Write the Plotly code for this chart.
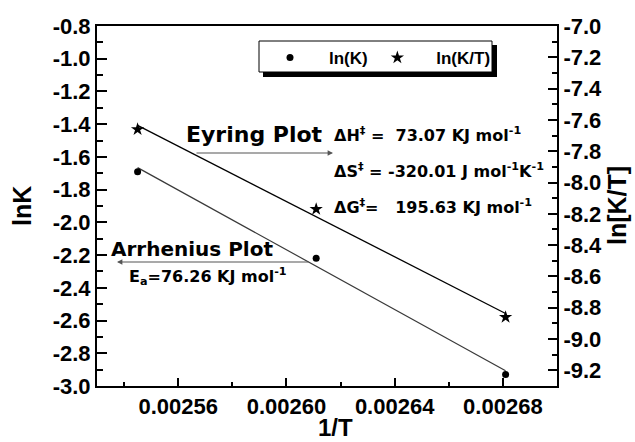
import numpy as np
import plotly.graph_objects as go

# ---------------- data ----------------
inv_T = [0.002545, 0.002611, 0.002681]
ln_K = [-1.69, -2.22, -2.93]
ln_K_over_T = [-7.66, -8.17, -8.86]

x_ticks = [0.00256, 0.00260, 0.00264, 0.00268]
x_tick_labels = ["0.00256", "0.00260", "0.00264", "0.00268"]
y_ticks = [-3.0, -2.8, -2.6, -2.4, -2.2, -2.0, -1.8, -1.6, -1.4, -1.2, -1.0, -0.8]
y_tick_labels = ["-3.0", "-2.8", "-2.6", "-2.4", "-2.2", "-2.0", "-1.8", "-1.6", "-1.4", "-1.2", "-1.0", "-0.8"]
y2_ticks = [-9.2, -9.0, -8.8, -8.6, -8.4, -8.2, -8.0, -7.8, -7.6, -7.4, -7.2, -7.0]
y2_tick_labels = ["-9.2", "-9.0", "-8.8", "-8.6", "-8.4", "-8.2", "-8.0", "-7.8", "-7.6", "-7.4", "-7.2", "-7.0"]

series_names = ["ln(K)", "ln(K/T)"]

# ---------------- layout geometry ----------------
W, H = 635, 442
L, R, T, B = 97, 78, 26, 56
PW, PH = W - L - R, H - T - B


def px(x):
    return (x - L) / PW


def py(y):
    return (H - B - y) / PH


def bold(labels):
    return ["<b>%s</b>" % s for s in labels]


ARIAL = "Liberation Sans, Arial, sans-serif"
WIDE = "DejaVu Sans, Verdana, sans-serif"

# linear fits of the data
a1, b1 = np.polyfit(inv_T, ln_K, 1)
a2, b2 = np.polyfit(inv_T, ln_K_over_T, 1)
fit_x = np.array([inv_T[0], inv_T[-1]])

fig = go.Figure()

fig.add_trace(go.Scatter(x=fit_x, y=a1 * fit_x + b1, mode="lines",
                         line=dict(color="#3a3a3a", width=1.2), showlegend=False,
                         hoverinfo="skip"))
fig.add_trace(go.Scatter(x=fit_x, y=a2 * fit_x + b2, mode="lines", yaxis="y2",
                         line=dict(color="black", width=1.3), showlegend=False,
                         hoverinfo="skip"))

NB = "\u00a0"
fig.add_trace(go.Scatter(x=inv_T, y=ln_K, mode="markers",
                         name=NB * 4 + "<b>" + series_names[0] + "</b>" + NB,
                         marker=dict(symbol="circle", size=7, color="black",
                                     line=dict(width=0))))
fig.add_trace(go.Scatter(x=inv_T, y=ln_K_over_T, mode="markers", yaxis="y2",
                         name=NB * 4 + "<b>" + series_names[1] + "</b>",
                         marker=dict(symbol="star", size=10, color="black",
                                     line=dict(width=0))))

tickfont = dict(family=ARIAL, size=22, color="black")

fig.update_layout(
    width=W, height=H,
    margin=dict(l=L, r=R, t=T, b=B, pad=0),
    paper_bgcolor="white", plot_bgcolor="white",
    font=dict(family=ARIAL, color="black"),
    xaxis=dict(range=[0.00253, 0.0027], tickmode="array", tickvals=x_ticks,
               ticktext=bold(x_tick_labels), ticks="inside", ticklen=8, tickwidth=1.5,
               tickcolor="black", showline=True, linewidth=2, linecolor="black",
               mirror=True, showgrid=False, zeroline=False, tickfont=tickfont,
               minor=dict(ticks="inside", ticklen=4, tickwidth=1.5, tickcolor="black",
                          tick0=0.00254, dtick=0.00004, showgrid=False)),
    yaxis=dict(range=[-3.0, -0.8], tickmode="array", tickvals=y_ticks,
               ticktext=bold(y_tick_labels), ticks="inside", ticklen=10, tickwidth=1.5,
               tickcolor="black", showline=True, linewidth=2, linecolor="black",
               showgrid=False, zeroline=False, tickfont=tickfont,
               minor=dict(ticks="inside", ticklen=6, tickwidth=1.5, tickcolor="black",
                          tick0=-2.9, dtick=0.2, showgrid=False)),
    yaxis2=dict(range=[-9.30, -7.0], overlaying="y", side="right", tickmode="array",
                tickvals=y2_ticks, ticktext=bold(y2_tick_labels), ticks="inside", ticklen=9,
                tickwidth=1.5, tickcolor="black", showline=True, linewidth=2,
                linecolor="black", showgrid=False, zeroline=False, tickfont=tickfont,
                minor=dict(ticks="inside", ticklen=5, tickwidth=1.5, tickcolor="black",
                           tick0=-9.3, dtick=0.2, showgrid=False)),
    legend=dict(orientation="h", x=px(270), y=py(40), xanchor="left", yanchor="top",
                bgcolor="rgba(0,0,0,0)", borderwidth=0,
                font=dict(family=ARIAL, size=17, color="black")),
    showlegend=True,
)

# legend frame with drop shadow
fig.add_shape(type="rect", xref="paper", yref="paper",
              x0=px(263), x1=px(497), y0=py(77), y1=py(45),
              fillcolor="black", line=dict(width=0), layer="above")
fig.add_shape(type="rect", xref="paper", yref="paper",
              x0=px(259), x1=px(492), y0=py(72), y1=py(41),
              fillcolor="white", line=dict(color="black", width=1), layer="above")

ann = []
# axis titles
ann.append(dict(text="<b>lnK</b>", x=px(22), y=0.5, xref="paper", yref="paper",
                textangle=-90, showarrow=False, xanchor="center", yanchor="middle",
                font=dict(family=ARIAL, size=25, color="black")))
ann.append(dict(text="<b>ln[K/T]</b>", x=px(617), y=0.5, xref="paper", yref="paper",
                textangle=-90, showarrow=False, xanchor="center", yanchor="middle",
                font=dict(family=ARIAL, size=25, color="black")))
ann.append(dict(text="<b>1/T</b>", x=px(335), y=py(427), xref="paper", yref="paper",
                showarrow=False, xanchor="center", yanchor="middle",
                font=dict(family=ARIAL, size=24, color="black")))

# plot labels
ann.append(dict(text="<b>Eyring Plot</b>", x=px(184), y=py(134), xref="paper",
                yref="paper", showarrow=False, xanchor="left", yanchor="middle",
                font=dict(family=WIDE, size=22, color="black")))
ann.append(dict(text="<b>Arrhenius Plot</b>", x=px(109), y=py(249), xref="paper",
                yref="paper", showarrow=False, xanchor="left", yanchor="middle",
                font=dict(family=WIDE, size=20, color="black")))
ann.append(dict(text="<b>E<sub>a</sub>=76.26 KJ mol<sup>-1</sup></b>", x=px(127),
                y=py(276), xref="paper", yref="paper", showarrow=False,
                xanchor="left", yanchor="middle",
                font=dict(family=WIDE, size=16, color="black")))
ann.append(dict(text="<b>\u0394H<sup>\u2021</sup> =  73.07 KJ mol<sup>-1</sup></b>",
                x=px(332), y=py(134), xref="paper", yref="paper", showarrow=False,
                xanchor="left", yanchor="middle",
                font=dict(family=WIDE, size=16, color="black")))
ann.append(dict(text="<b>\u0394S<sup>\u2021</sup> = -320.01 J mol<sup>-1</sup>K<sup>-1</sup></b>",
                x=px(332), y=py(170), xref="paper", yref="paper", showarrow=False,
                xanchor="left", yanchor="middle",
                font=dict(family=WIDE, size=16, color="black")))
ann.append(dict(text="<b>\u0394G<sup>\u2021</sup>=   195.63 KJ mol<sup>-1</sup></b>",
                x=px(332), y=py(206), xref="paper", yref="paper", showarrow=False,
                xanchor="left", yanchor="middle",
                font=dict(family=WIDE, size=16, color="black")))

# arrows
ann.append(dict(text="", x=px(333), y=py(153), xref="paper", yref="paper",
                showarrow=True, ax=-138, ay=0, axref="pixel", ayref="pixel",
                arrowhead=2, arrowsize=0.9, arrowwidth=1.2, arrowcolor="#555555",
                standoff=0, startstandoff=0))
ann.append(dict(text="", x=px(117), y=py(262), xref="paper", yref="paper",
                showarrow=True, ax=193, ay=0, axref="pixel", ayref="pixel",
                arrowhead=2, arrowsize=0.9, arrowwidth=1.2, arrowcolor="#555555",
                standoff=0, startstandoff=0))

fig.update_layout(annotations=ann)

fig.write_html("out.html")
